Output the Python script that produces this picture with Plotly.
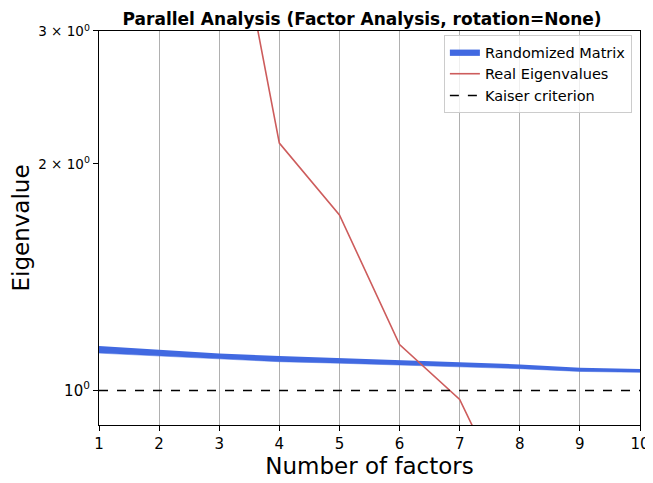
import plotly.graph_objects as go

factors = [1, 2, 3, 4, 5, 6, 7, 8, 9, 10]
real_eigen = [12.0, 7.5, 5.57, 2.13, 1.71, 1.151, 0.973, 0.664, 0.55, 0.45]
rand_upper = [1.146, 1.134, 1.120, 1.111, 1.104, 1.097, 1.090, 1.083, 1.072, 1.068]
rand_lower = [1.121, 1.111, 1.100, 1.092, 1.087, 1.081, 1.075, 1.069, 1.060, 1.057]
kaiser = [1.0] * len(factors)

ytick_vals = [1, 2, 3]
ytick_text = ["10<sup>0</sup>",
              "<span style='font-size:13.5px'>2 × 10<sup>0</sup></span>",
              "<span style='font-size:13.5px'>3 × 10<sup>0</sup></span>"]

fig = go.Figure()
fig.add_trace(go.Scatter(x=factors, y=rand_upper, mode="lines", line=dict(width=0, color="royalblue"),
                         showlegend=False, hoverinfo="skip"))
fig.add_trace(go.Scatter(x=factors, y=rand_lower, mode="lines", line=dict(width=0.5, color="royalblue"),
                         fill="tonexty", fillcolor="royalblue", name="Randomized Matrix"))
fig.add_trace(go.Scatter(x=factors, y=real_eigen, mode="lines", line=dict(width=1.6, color="indianred"),
                         name="Real Eigenvalues"))
fig.add_trace(go.Scatter(x=factors, y=kaiser, mode="lines", line=dict(width=1.6, color="black", dash="dash"),
                         name="Kaiser criterion"))

fig.update_layout(
    width=645, height=475,
    margin=dict(l=91, r=13, t=23, b=58),
    paper_bgcolor="white", plot_bgcolor="white",
    font=dict(family="DejaVu Sans", color="black"),
    title=dict(text="<b>Parallel Analysis (Factor Analysis, rotation=None)</b>",
               x=0.549, xanchor="center", y=0.977, yanchor="middle", font=dict(size=17)),
    legend=dict(x=0.985, y=0.99, xanchor="right", yanchor="top", bgcolor="rgba(255,255,255,0.8)",
                bordercolor="#cccccc", borderwidth=1, font=dict(size=14.5), tracegroupgap=0,
                traceorder="normal", itemwidth=30),
    showlegend=True,
)
fig.update_xaxes(range=[1, 10], tickvals=factors, ticks="outside", ticklen=5, tickcolor="black",
                 showgrid=True, gridcolor="#b0b0b0", gridwidth=1, showline=True, linecolor="black",
                 linewidth=1.2, mirror=True, zeroline=False, tickfont=dict(size=15), automargin=False,
                 title=dict(text="Number of factors", font=dict(size=23), standoff=4))
fig.update_yaxes(type="log", range=[-0.0458, 0.4771], tickvals=ytick_vals, ticktext=ytick_text,
                 ticks="outside", ticklen=5, tickcolor="black", showgrid=False, showline=True,
                 linecolor="black", linewidth=1.2, mirror=True, zeroline=False, tickfont=dict(size=15),
                 automargin=False,
                 title=dict(text="Eigenvalue", font=dict(size=23), standoff=8))
fig.write_html("out.html")
